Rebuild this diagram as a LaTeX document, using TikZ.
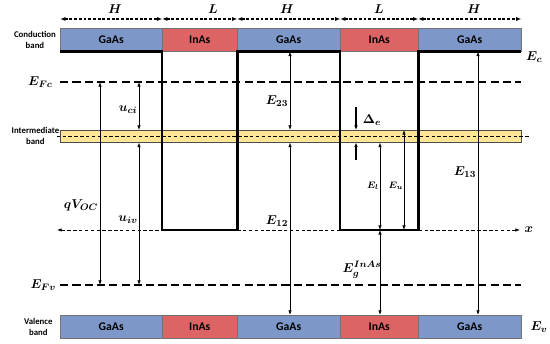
\documentclass[tikz,border=0pt]{standalone}
\usepackage{amsmath,amssymb}
\usepackage{fontspec}
\newfontfamily\calfont{Carlito}
\usepackage{xcolor}
\usetikzlibrary{positioning,arrows.meta,calc}
\definecolor{gaasblue}{RGB}{125,152,200}
\definecolor{inasred}{RGB}{221,100,100}
\definecolor{ibyellow}{RGB}{255,229,150}
\tikzset{
  gaas/.style={draw=black!55, fill=gaasblue, inner sep=0pt, anchor=north west, font=\calfont\bfseries\fontsize{10}{12}\selectfont},
  inas/.style={gaas, fill=inasred},
  bandlbl/.style={font=\calfont\bfseries\fontsize{7.5}{9.5}\selectfont, align=center, inner sep=0.5pt},
  lbl/.style={font=\fontsize{11}{13}\selectfont, inner sep=1pt},
  slbl/.style={font=\fontsize{8}{10}\selectfont, inner sep=1pt},
  cbedge/.style={line width=2pt},
  fermi/.style={line width=1.8pt, dash pattern=on 7pt off 3.5pt},
  arr/.style={{Latex[length=1.4mm,width=1mm]}-{Latex[length=1.4mm,width=1mm]}, line width=0.5pt},
  arrd/.style={-{Latex[length=1.4mm,width=1.1mm]}, line width=0.9pt},
  widthline/.style={{Latex[length=1.6mm,width=1.2mm]}-{Latex[length=1.6mm,width=1.2mm]}, line width=1pt, dash pattern=on 2.5pt off 1.5pt},
}

\begin{document}
\begin{tikzpicture}[x=0.03cm, y=-0.03cm]
\useasboundingbox (0,0) rectangle (550,344);
% levels and guides
\coordinate (fcl) at (60,82); \coordinate (fcr) at (521,82);
\coordinate (fvl) at (60,285); \coordinate (fvr) at (521,285);
\coordinate (xl) at (57,230); \coordinate (xr) at (520,230);
\coordinate (xq) at (100,0); \coordinate (xu) at (139,0);
\coordinate (xe) at (290,0); \coordinate (xt) at (478,0);
\coordinate (xw) at (380,0); \coordinate (xv) at (404,0);
\coordinate (d1) at (356,107); \coordinate (d2) at (356,160);
% band boxes
\foreach \a/\b/\m/\t/\n in {60/162/gaas/GaAs/1,162/237/inas/InAs/2,237/340/gaas/GaAs/3,340/418/inas/InAs/4,418/521/gaas/GaAs/5}{
  \pgfmathsetmacro\w{(\b-\a)*0.03}
  \node[\m, minimum width=\w cm, minimum height=0.69cm] (cb\n) at (\a,28) {\t};
  \node[\m, minimum width=\w cm, minimum height=0.69cm] (vb\n) at (\a,315) {\t};
}
\foreach \n/\t/\p in {1/H/115,2/L/213,3/H/287,4/L/379,5/H/474}{
  \draw[widthline] ([yshift=2.7mm]cb\n.north west) -- ([yshift=2.7mm]cb\n.north east);
  \node[lbl] (w\n) at (\p,9) {$\boldsymbol{\t}$};
}
% intermediate band
\node[draw=black!70, fill=ibyellow, minimum width=13.83cm, minimum height=0.36cm, inner sep=0pt, anchor=north west] (ib) at (60,130) {};
\draw[densely dashed, line width=0.5pt] ([xshift=-1mm]ib.west) -- ([xshift=2.7mm]ib.east);
% x axis
\draw[{Latex[length=1.4mm,width=1mm]}-{Latex[length=1.4mm,width=1mm]}, densely dashed, line width=0.5pt] (xl) -- (xr);
\node[lbl, right=1mm of xr] (xlbl) {$\boldsymbol{x}$};
% conduction band profile
\draw[cbedge] (cb1.south west) -- (cb2.south west) -- (cb2.south west |- xl) -- (cb2.south east |- xl) -- (cb2.south east)
  -- (cb4.south west) -- (cb4.south west |- xl) -- (cb4.south east |- xl) -- (cb4.south east) -- (cb5.south east);
% quasi fermi levels
\draw[fermi] (fcl) -- (fcr);
\draw[fermi] (fvl) -- (fvr);
\node[lbl, left=1.8mm of fcl] (efc) {$\boldsymbol{E_{Fc}}$};
\node[lbl, left=0.8mm of fvl] (efv) {$\boldsymbol{E_{Fv}}$};
\node[lbl, anchor=west] (eclbl) at ([xshift=1mm,yshift=-1.8mm]cb5.south east) {$\boldsymbol{E_c}$};
\node[lbl, right=2.3mm of vb5] (evlbl) {$\boldsymbol{E_v}$};
% band names
\node[bandlbl, left=1mm of cb1] (cbname) {Conduction\\band};
\node[bandlbl, left=0mm of ib] (ibname) {Intermediate\\band};
\node[bandlbl, left=2mm of vb1] (vbname) {Valence\\band};
% energies
\draw[arr] (xq |- fcl) -- (xq |- fvl);
\draw[arr] (xu |- fcl) -- (xu |- ib.north);
\draw[arr] (xu |- ib.south) -- (xu |- fvl);
\draw[arr] (xe |- cb3.south) -- (xe |- ib.north);
\draw[arr] (xe |- ib.south) -- (xe |- vb3.north);
\draw[arr] (xt |- cb5.south) -- (xt |- vb5.north);
\draw[arr] (xw |- ib.south) -- (xw |- xl);
\draw[arr] (xv |- ib.north) -- (xv |- xl);
\draw[arr] (xw |- xl) -- (xw |- vb4.north);
\draw[arrd] (d1) -- (d1 |- ib.north);
\draw[arrd] (d2) -- (d2 |- ib.south);
\node[lbl] (qv) at (81,205) {$\boldsymbol{qV_{OC}}$};
\node[lbl] (uci) at (128,110) {$\boldsymbol{u_{ci}}$};
\node[lbl] (uiv) at (128,220) {$\boldsymbol{u_{iv}}$};
\node[lbl] (e23) at (277,101) {$\boldsymbol{E_{23}}$};
\node[lbl] (e12) at (277,221) {$\boldsymbol{E_{12}}$};
\node[lbl] (e13) at (465,172) {$\boldsymbol{E_{13}}$};
\node[lbl] (de) at (372,120) {$\boldsymbol{\Delta_e}$};
\node[slbl] (el) at (373,186) {$\boldsymbol{E_l}$};
\node[slbl] (eu) at (396,186) {$\boldsymbol{E_u}$};
\node[lbl] (eg) at (362,270) {$\boldsymbol{E_g^{InAs}}$};
\end{tikzpicture}
\end{document}
